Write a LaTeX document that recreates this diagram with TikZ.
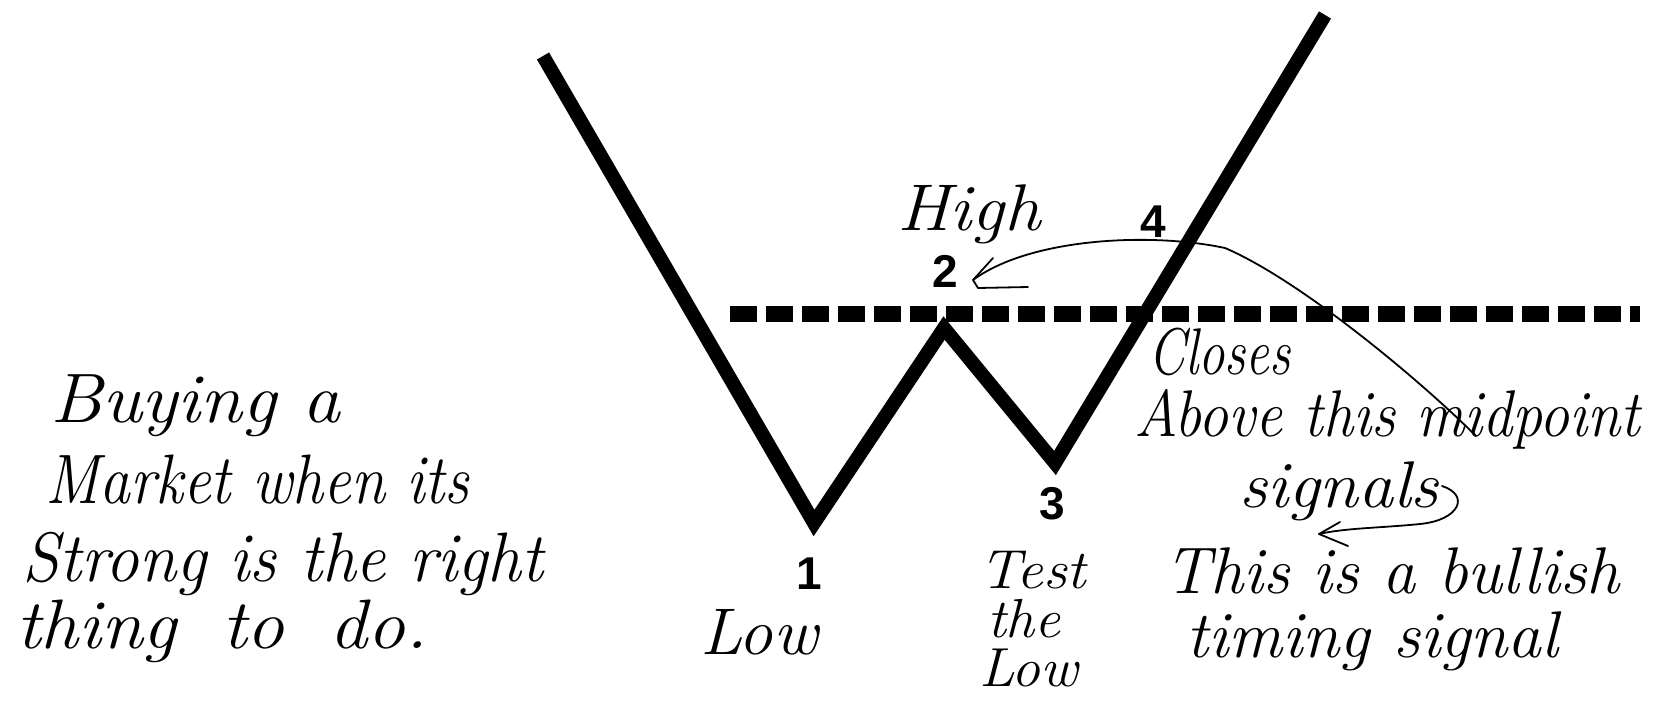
\documentclass[tikz,border=0pt]{standalone}
\usepackage{fontspec}
\newfontfamily\numfont{Liberation Sans}
\begin{document}
\begin{tikzpicture}[x=1pt,y=-1pt,
  wline/.style={line width=14pt, line join=miter},
  midline/.style={line width=16pt, dash pattern=on 27pt off 9pt},
  hw/.style={font=\fontsize{66}{60}\selectfont\itshape, inner sep=0pt, anchor=base west},
  hwl/.style={font=\fontsize{70}{60}\selectfont\itshape, inner sep=0pt, anchor=base west},
  num/.style={font=\numfont\bfseries\fontsize{46}{46}\selectfont, inner sep=0pt},
  hand/.style={line width=1.8pt, line cap=round, line join=round}]
\useasboundingbox (0,0) rectangle (1675,702);
\fill[white] (0,0) rectangle (1675,702);
% W pattern
\coordinate (w0) at (543,56);
\coordinate (w1) at (814,523);
\coordinate (w2) at (944,328);
\coordinate (w3) at (1055,463);
\coordinate (w4) at (1325,15);
\draw[wline] (w0) -- (w1) -- (w2) -- (w3) -- (w4);
% midpoint line
\coordinate (m0) at (730,314);
\coordinate (m1) at (1640,314);
\draw[midline] (m0) -- (m1);
% numbers
\node[num] (n1) at (809,574) {1};
\node[num] (n2) at (945,271) {2};
\node[num] (n3) at (1052,504) {3};
\node[num] (n4) at (1153,222) {4};
% handwritten labels
\node[hw] (high) at (897,230) {\scalebox{1.1}[1]{High}};
\node[hw] (low1) at (700,654) {\scalebox{1.04}[1]{Low}};
\node[font=\fontsize{55}{49}\selectfont\itshape, inner sep=0pt, anchor=north west, align=left]
  (test) at (979,551) {\scalebox{1.08}[1]{Test}\\\hspace{8pt}\scalebox{1.05}[1]{the}\\\scalebox{1.05}[1]{Low}};
\node[hw] (closes) at (1148,374) {\scalebox{0.8}[1]{Closes}};
\node[hw] (above) at (1134,436) {\scalebox{0.91}[1]{Above this midpoint}};
\node[hw] (signals) at (1239,507) {\scalebox{1.06}[1]{signals}};
\node[hw] (bull) at (1164,593) {\scalebox{1.0}[1]{This is a bullish}};
\node[hw] (timing) at (1186,657) {\scalebox{1.02}[1]{timing signal}};
\node[hwl] (buy1) at (50,422) {\scalebox{1.08}[1]{Buying a}};
\node[hwl] (buy2) at (45,503) {\scalebox{0.88}[1]{Market when its}};
\node[hwl] (buy3) at (22,581) {\scalebox{0.96}[1]{Strong is the right}};
\node[hwl] (buy4) at (16,648) {\scalebox{1.08}[1]{thing\hspace{0.25em} to\hspace{0.25em} do.}};
% arrow from midpoint text to 2
\coordinate (a1s) at (1476,436);
\coordinate (a1t) at (973,280);
\draw[hand] (a1s) .. controls (1420,380) and (1300,280) .. (1225,248)
  .. controls (1150,232) and (1030,238) .. (a1t);
\draw[hand] (993,258) -- (a1t) -- (978,288) -- (1028,287);
% arrow from signals to bullish
\coordinate (a2s) at (1442,486);
\coordinate (a2t) at (1319,534);
\draw[hand] (a2s) .. controls (1470,495) and (1460,520) .. (1420,524)
  .. controls (1380,528) and (1345,528) .. (a2t);
\draw[hand] (1340,522) -- (a2t) -- (1348,546);
\end{tikzpicture}
\end{document}
